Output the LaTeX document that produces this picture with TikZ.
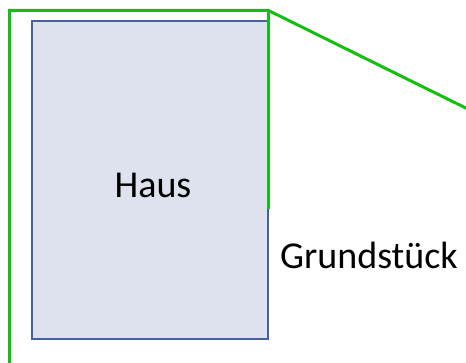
\documentclass[tikz,border=0pt]{standalone}
\usepackage{fontspec}
\setmainfont{Carlito}
\definecolor{plotgreen}{RGB}{20,190,20}
\definecolor{housefill}{RGB}{222,226,238}
\definecolor{houseline}{RGB}{68,98,158}
\tikzset{
  housebox/.style={draw=houseline, fill=housefill, line width=2pt, minimum width=236pt, minimum height=318pt, inner sep=0pt},
  plotline/.style={draw=plotgreen, line width=3pt},
  label/.style={inner sep=0pt, font=\fontsize{38}{44}\selectfont, text=black}
}
\begin{document}
\begin{tikzpicture}[x=1pt,y=-1pt]
\useasboundingbox (0,0) rectangle (466,363);
\clip (0,0) rectangle (466,363);
\node[housebox] (haus) at (150,180) {};
\node[label, anchor=base] (hauslabel) at (153,198) {Haus};
\coordinate (pbl) at (9.5,370);
\coordinate (ptl) at (9.5,10.5);
\coordinate (ptr) at (268.5,10.5);
\coordinate (pmid) at (268.5,209);
\coordinate (pfar) at (490,120);
\draw[plotline, line join=miter] (pbl) -- (ptl) -- (ptr) -- (pfar);
\draw[plotline] (ptr) -- (pmid);
\node[label, anchor=base west] (grund) at (280,269) {Grundstück};
\end{tikzpicture}
\end{document}
